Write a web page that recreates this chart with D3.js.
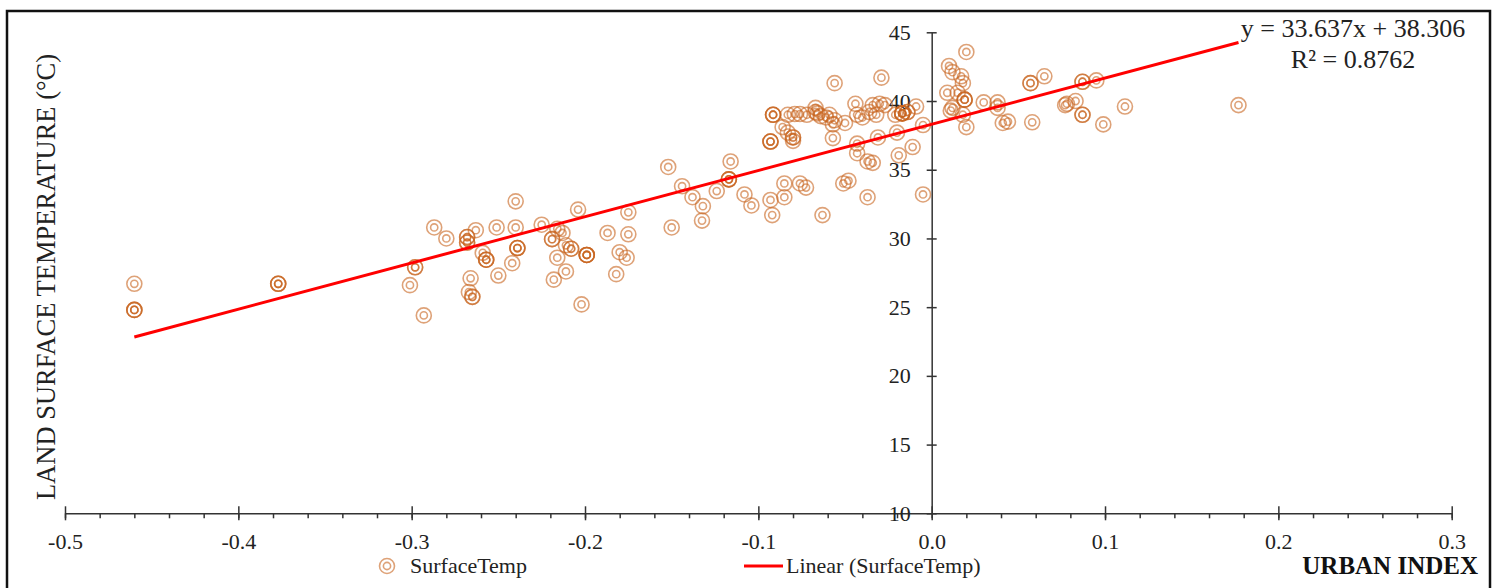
<!DOCTYPE html>
<html>
<head>
<meta charset="utf-8">
<script src="https://cdn.jsdelivr.net/npm/d3@7"></script>
<style>
  body { margin: 0; background: #fff; }
  svg { display: block; font-family: "Liberation Serif", "Times New Roman", serif; }
</style>
</head>
<body>
<svg id="chart" width="1499" height="588"></svg>
<script>
// urban index vs land surface temperature
var urbanIndex = [
  -0.46, -0.46, -0.46, -0.46, -0.377, -0.377, -0.377,
  -0.301, -0.298, -0.298, -0.293, -0.287, -0.280, -0.268, -0.268, -0.268, -0.268,
  -0.263, -0.266, -0.267, -0.265, -0.265, -0.259, -0.257, -0.257, -0.257,
  -0.251, -0.250, -0.242, -0.240, -0.240, -0.239, -0.239, -0.239,
  -0.225, -0.219, -0.219, -0.216, -0.213, -0.216, -0.211, -0.208, -0.208, -0.211, -0.218,
  -0.204, -0.199, -0.199, -0.199, -0.199, -0.202,
  -0.187, -0.175, -0.175, -0.180, -0.176, -0.182,
  -0.152, -0.150, -0.144, -0.138, -0.132, -0.1325, -0.124, -0.116, -0.117, -0.117, -0.117,
  -0.108, -0.104, -0.093, -0.092, -0.085, -0.085, -0.076, -0.0725, -0.063, -0.051, -0.048, -0.037,
  -0.093, -0.093, -0.093, -0.0915, -0.0915, -0.0915, -0.086, -0.083, -0.080, -0.080, -0.080,
  -0.083, -0.079, -0.076, -0.072, -0.067, -0.066, -0.064, -0.061, -0.059, -0.056, -0.067,
  -0.057, -0.057, -0.056, -0.050, -0.044, -0.043, -0.043, -0.043, -0.037, -0.034,
  -0.040, -0.036, -0.034, -0.032, -0.030, -0.027, -0.029, -0.031,
  -0.021, -0.020, -0.019, -0.017, -0.017, -0.017, -0.017, -0.014, -0.014, -0.011, -0.009, -0.005, -0.005,
  0.010, 0.012, 0.017, 0.018, 0.020, 0.009, 0.015, 0.011, 0.012, 0.019, 0.019, 0.019, 0.018, 0.020,
  0.030, 0.038, 0.038, 0.041, 0.044, 0.057, 0.057, 0.065, 0.058,
  0.077, 0.078, 0.083, 0.087, 0.087, 0.087, 0.087, 0.095, 0.099, 0.1115, 0.177
];
var surfaceTemp = [
  26.7, 24.8, 24.8, 24.8, 26.7, 26.7, 26.7,
  26.6, 27.9, 27.9, 24.4, 30.8, 30.0, 30.1, 30.1, 29.7, 29.7,
  30.6, 27.1, 26.1, 25.75, 25.75, 28.95, 28.45, 28.45, 28.45,
  30.8, 27.3, 28.2, 32.7, 30.8, 29.3, 29.3, 29.3,
  31.0, 29.95, 29.95, 30.7, 30.4, 28.6, 29.5, 29.25, 29.25, 27.6, 27.0,
  32.1, 28.8, 28.8, 28.8, 28.8, 25.2,
  30.4, 31.9, 30.3, 29.0, 28.6, 27.4,
  35.2, 30.8, 33.8, 33.0, 32.35, 31.3, 33.45, 35.6, 34.3, 34.3, 34.3,
  33.2, 32.4, 32.8, 31.7, 34.0, 33.0, 34.0, 33.7, 31.7, 34.0, 34.2, 33.0,
  37.05, 37.05, 37.05, 39.0, 39.0, 39.0, 38.1, 37.7, 37.35, 37.35, 37.1,
  39.0, 39.05, 39.05, 39.0, 39.2, 39.1, 38.9, 38.8, 39.0, 38.6, 39.5,
  38.3, 37.3, 41.3, 38.4, 39.8, 39.0, 36.9, 36.2, 35.6, 35.5,
  38.8, 39.2, 39.7, 39.0, 39.8, 39.7, 41.7, 37.35,
  39.0, 37.7, 36.05, 39.1, 39.1, 39.1, 39.1, 39.2, 39.2, 36.65, 39.6, 38.25, 33.2,
  42.55, 42.1, 41.8, 41.3, 43.57, 40.6, 40.6, 39.3, 39.5, 40.1, 40.1, 40.1, 39.0, 38.1,
  39.9, 39.9, 39.5, 38.4, 38.5, 41.3, 41.3, 41.8, 38.45,
  39.7, 39.8, 40.0, 39.0, 39.0, 41.4, 41.4, 41.5, 38.3, 39.6, 39.7
];

var xTicks = [-0.5, -0.4, -0.3, -0.2, -0.1, 0.0, 0.1, 0.2, 0.3];
var yTicks = [10, 15, 20, 25, 30, 35, 40, 45];
var slope = 33.637, intercept = 38.306;
var trendRange = [-0.46, 0.177];

var svg = d3.select("#chart");

var x = d3.scaleLinear().domain([-0.5, 0.3]).range([65, 1451.7]);
var y = d3.scaleLinear().domain([10, 45]).range([513.3, 32.3]);

// frame
svg.append("rect")
  .attr("x", 7).attr("y", 11)
  .attr("width", 1483).attr("height", 600)
  .attr("fill", "none").attr("stroke", "#111").attr("stroke-width", 2.5);

var axisColor = "#333";

// x axis, minor ticks first
var xMinor = d3.range(-25, 16).map(function (i) { return i * 0.02; });
var gxm = svg.append("g")
  .attr("transform", "translate(0," + y(10) + ")")
  .call(d3.axisBottom(x).tickValues(xMinor).tickSize(5).tickSizeOuter(0).tickFormat(""));
gxm.select(".domain").remove();
gxm.selectAll("line").attr("stroke", axisColor).attr("stroke-width", 1.5);

var gx = svg.append("g")
  .attr("transform", "translate(0," + y(10) + ")")
  .call(d3.axisBottom(x).tickValues(xTicks).tickSize(7).tickSizeOuter(0).tickPadding(13)
    .tickFormat(function (d) { return d.toFixed(1); }));
gx.attr("font-family", null);
gx.select(".domain").attr("stroke", axisColor).attr("stroke-width", 1.5);
gx.selectAll("line").attr("y1", -7).attr("stroke", axisColor).attr("stroke-width", 1.5);
gx.selectAll("text").attr("font-size", 22).attr("fill", "#222")
  .attr("font-family", "Liberation Serif");

// y axis sits at x = 0
var gy = svg.append("g")
  .attr("transform", "translate(" + x(0) + ",0)")
  .call(d3.axisLeft(y).tickValues(yTicks).tickSize(5).tickSizeOuter(0).tickPadding(16));
gy.attr("font-family", null);
gy.select(".domain").attr("stroke", axisColor).attr("stroke-width", 1.5);
gy.selectAll("line").attr("x1", 5).attr("stroke", axisColor).attr("stroke-width", 1.5);
gy.selectAll("text").attr("font-size", 22).attr("fill", "#222")
  .attr("font-family", "Liberation Serif");

// points
var pts = urbanIndex.map(function (d, i) { return [d, surfaceTemp[i]]; });
var markColor = "rgb(200,100,30)";

function marker(sel, r1, r2) {
  sel.append("circle").attr("r", r1).attr("fill", "none")
    .attr("stroke", markColor).attr("stroke-width", 1.6).attr("stroke-opacity", 0.6);
  sel.append("circle").attr("r", r2).attr("fill", "none")
    .attr("stroke", markColor).attr("stroke-width", 1.6).attr("stroke-opacity", 0.6);
}

svg.append("g").selectAll("g")
  .data(pts).enter().append("g")
  .attr("transform", function (d) { return "translate(" + x(d[0]) + "," + y(d[1]) + ")"; })
  .each(function () { marker(d3.select(this), 7.5, 3.6); });

// trend line
svg.append("line")
  .attr("x1", x(trendRange[0])).attr("y1", y(slope * trendRange[0] + intercept))
  .attr("x2", x(trendRange[1])).attr("y2", y(slope * trendRange[1] + intercept))
  .attr("stroke", "#f00").attr("stroke-width", 3);

// equation
svg.append("text").attr("x", 1353).attr("y", 37).attr("text-anchor", "middle")
  .attr("font-size", 26).attr("fill", "#222").text("y = 33.637x  + 38.306");
svg.append("text").attr("x", 1353).attr("y", 68).attr("text-anchor", "middle")
  .attr("font-size", 26).attr("fill", "#222").text("R² = 0.8762");

// axis titles
svg.append("text")
  .attr("transform", "translate(55,277) rotate(-90)")
  .attr("text-anchor", "middle").attr("font-size", 26.5).attr("fill", "#222")
  .text("LAND SURFACE TEMPERATURE (°C)");
svg.append("text").attr("x", 1478).attr("y", 574).attr("text-anchor", "end")
  .attr("font-size", 25).attr("font-weight", "bold").attr("fill", "#111")
  .text("URBAN INDEX");

// legend
var lg = svg.append("g").attr("transform", "translate(387,566)");
marker(lg, 7.5, 3.6);
svg.append("text").attr("x", 410).attr("y", 573).attr("font-size", 22).attr("fill", "#222")
  .text("SurfaceTemp");
svg.append("line").attr("x1", 744).attr("x2", 783).attr("y1", 566).attr("y2", 566)
  .attr("stroke", "#f00").attr("stroke-width", 3);
svg.append("text").attr("x", 786).attr("y", 573).attr("font-size", 22).attr("fill", "#222")
  .text("Linear (SurfaceTemp)");
</script>
</body>
</html>
